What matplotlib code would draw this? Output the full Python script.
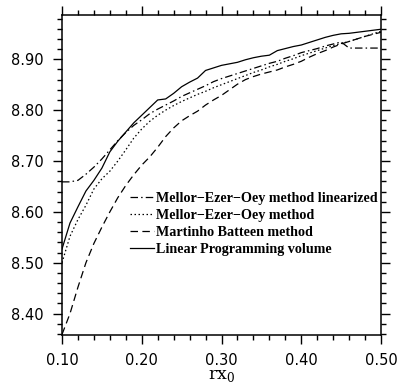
import matplotlib
matplotlib.use("Agg")
import matplotlib.pyplot as plt
from matplotlib.ticker import MultipleLocator, FormatStrFormatter

rx0 = [0.10, 0.11, 0.12, 0.13, 0.14, 0.15, 0.16, 0.17, 0.18, 0.19,
       0.20, 0.21, 0.22, 0.23, 0.24, 0.25, 0.26, 0.27, 0.28, 0.29,
       0.30, 0.31, 0.32, 0.33, 0.34, 0.35, 0.36, 0.37, 0.38, 0.39,
       0.40, 0.41, 0.42, 0.43, 0.44, 0.45, 0.46, 0.47, 0.48, 0.49, 0.50]

meo_linearized = [8.659, 8.659, 8.662, 8.674, 8.688, 8.704, 8.722, 8.740, 8.756, 8.770,
                  8.781, 8.793, 8.802, 8.810, 8.818, 8.827, 8.834, 8.841, 8.848, 8.856,
                  8.862, 8.867, 8.872, 8.877, 8.882, 8.887, 8.892, 8.896, 8.902, 8.907,
                  8.913, 8.917, 8.921, 8.926, 8.930, 8.934, 8.922, 8.922, 8.922, 8.922, 8.922]

meo_method = [8.500, 8.552, 8.585, 8.613, 8.645, 8.665, 8.680, 8.700, 8.722, 8.745,
              8.763, 8.778, 8.790, 8.800, 8.809, 8.817, 8.824, 8.831, 8.837, 8.844,
              8.850, 8.856, 8.862, 8.868, 8.874, 8.879, 8.885, 8.890, 8.896, 8.901,
              8.907, 8.912, 8.917, 8.922, 8.927, 8.931, 8.935, 8.940, 8.945, 8.950, 8.955]

martinho = [8.359, 8.400, 8.452, 8.500, 8.538, 8.570, 8.600, 8.628, 8.652, 8.673,
            8.692, 8.708, 8.727, 8.748, 8.765, 8.779, 8.789, 8.798, 8.810, 8.820,
            8.829, 8.840, 8.851, 8.860, 8.866, 8.871, 8.875, 8.879, 8.885, 8.890,
            8.896, 8.904, 8.911, 8.917, 8.924, 8.930, 8.935, 8.940, 8.945, 8.949, 8.953]

linear_prog = [8.527, 8.578, 8.610, 8.641, 8.662, 8.686, 8.718, 8.739, 8.757, 8.775,
               8.790, 8.805, 8.820, 8.822, 8.833, 8.846, 8.855, 8.863, 8.878, 8.883,
               8.888, 8.891, 8.894, 8.899, 8.903, 8.906, 8.908, 8.917, 8.921, 8.925,
               8.928, 8.933, 8.938, 8.943, 8.947, 8.950, 8.951, 8.953, 8.955, 8.957, 8.959]

labels = ["Mellor\u2212Ezer\u2212Oey method linearized",
          "Mellor\u2212Ezer\u2212Oey method",
          "Martinho Batteen method",
          "Linear Programming volume"]

fig = plt.figure(figsize=(3.99, 3.84), dpi=100)
ax = fig.add_axes([62/399, 1 - 335/384, 319/399, 320/384])

lw = 0.9
ax.plot(rx0, meo_linearized, color="black", lw=lw, dashes=(6, 2.5, 1.2, 2.5), label=labels[0])
ax.plot(rx0, meo_method, color="black", lw=lw, dashes=(1.2, 2.0), label=labels[1])
ax.plot(rx0, martinho, color="black", lw=lw, dashes=(6, 3.5), label=labels[2])
ax.plot(rx0, linear_prog, color="black", lw=lw, label=labels[3])

ax.set_xlim(0.10, 0.50)
ax.set_ylim(8.358, 8.987)
ax.xaxis.set_major_locator(MultipleLocator(0.1))
ax.xaxis.set_minor_locator(MultipleLocator(0.02))
ax.yaxis.set_major_locator(MultipleLocator(0.1))
ax.yaxis.set_minor_locator(MultipleLocator(0.02))
ax.xaxis.set_major_formatter(FormatStrFormatter("%.2f"))
ax.yaxis.set_major_formatter(FormatStrFormatter("%.2f"))

ax.tick_params(which="both", direction="out", top=True, right=True,
               labeltop=False, labelright=False, width=1.0, color="black")
ax.tick_params(which="major", length=6.3, labelsize=10.5, pad=7)
ax.tick_params(which="minor", length=3.3)
for lab in ax.get_xticklabels() + ax.get_yticklabels():
    lab.set_fontfamily("DejaVu Sans")
for s in ax.spines.values():
    s.set_linewidth(1.1)

ax.set_xlabel("rx$_\\mathregular{0}$", fontsize=12.5, family="DejaVu Serif", labelpad=-1)

leg = ax.legend(loc="upper left", bbox_to_anchor=(0.212, 0.446), frameon=False,
                prop={"family": "Liberation Serif", "weight": "bold", "size": 10.2},
                handlelength=1.75, handletextpad=0.1, labelspacing=0.27,
                borderpad=0, borderaxespad=0)

fig.savefig("out.png", dpi=100)
